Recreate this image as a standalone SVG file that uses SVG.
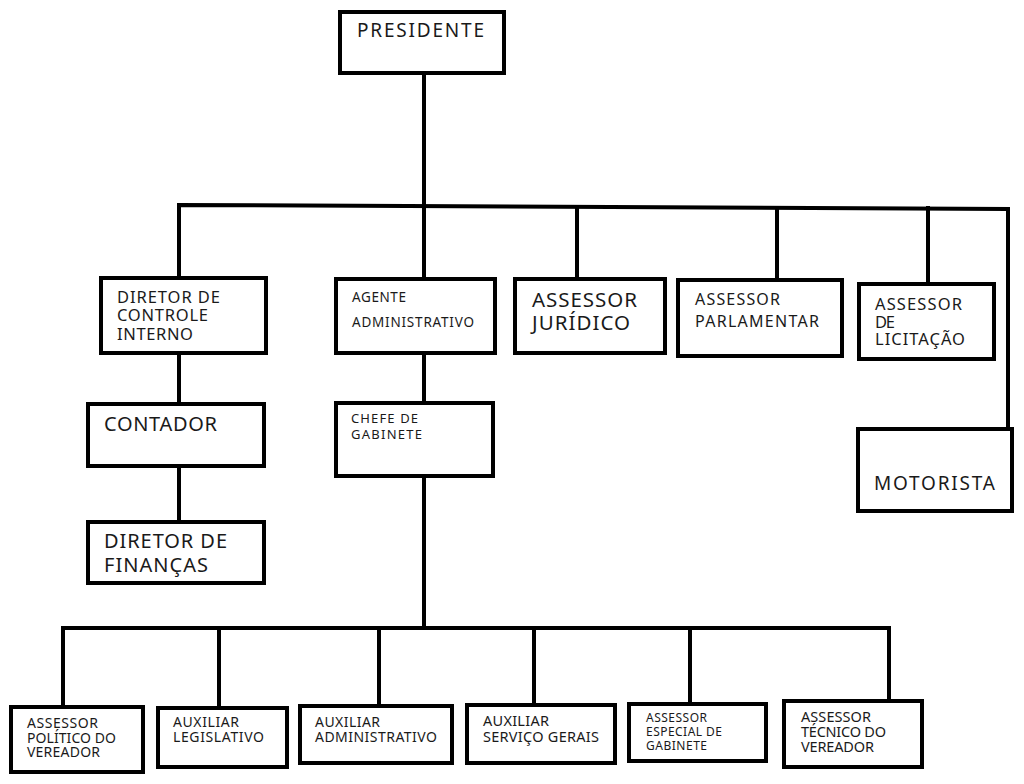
<svg xmlns="http://www.w3.org/2000/svg" width="1024" height="784" viewBox="0 0 1024 784">
<style>
.box{fill:#fff;stroke:#000;stroke-width:4}
.ln{fill:none;stroke:#000;stroke-width:4;stroke-linejoin:miter;stroke-linecap:square}
text{font-family:"Noto Sans","DejaVu Sans",sans-serif;fill:#1a1a1a}
</style>
<rect width="1024" height="784" fill="#fff"/>
<g id="connectors">
<path class="ln" d="M424 74V206"/>
<path class="ln" d="M179 277V205L1008 209V428"/>
<path class="ln" d="M424 206V278M577 207V278M777 208V279M928 208V283"/>
<path class="ln" d="M179 354V403M179 467V521"/>
<path class="ln" d="M424 354V402M424 477V628"/>
<path class="ln" d="M63 706V628H889V700"/>
<path class="ln" d="M219 628V707M379 628V705M534 628V704M690 628V703"/>
</g>
<g id="presidente"><rect class="box" x="340" y="12" width="164" height="61"/><text x="357" y="37" font-size="19" textLength="127" lengthAdjust="spacing">PRESIDENTE</text></g>
<g id="diretor-controle" font-size="16.5"><rect class="box" x="101" y="278" width="165" height="75"/>
<text x="117" y="303" textLength="103" lengthAdjust="spacing">DIRETOR DE</text>
<text x="117" y="321" textLength="91" lengthAdjust="spacing">CONTROLE</text>
<text x="117" y="340" textLength="76" lengthAdjust="spacing">INTERNO</text></g>
<g id="agente" font-size="13.5"><rect class="box" x="336" y="279" width="159" height="74"/>
<text x="352" y="302" textLength="54" lengthAdjust="spacing">AGENTE</text>
<text x="352" y="327" textLength="122" lengthAdjust="spacing">ADMINISTRATIVO</text></g>
<g id="juridico" font-size="20.5"><rect class="box" x="515" y="279" width="150" height="74"/>
<text x="532" y="307" textLength="105" lengthAdjust="spacing">ASSESSOR</text>
<text x="532" y="330" textLength="98" lengthAdjust="spacing">JURÍDICO</text></g>
<g id="parlamentar" font-size="16"><rect class="box" x="678" y="280" width="164" height="76"/>
<text x="695" y="305" textLength="85" lengthAdjust="spacing">ASSESSOR</text>
<text x="695" y="327" textLength="124" lengthAdjust="spacing">PARLAMENTAR</text></g>
<g id="licitacao" font-size="16.5"><rect class="box" x="859" y="284" width="135" height="75"/>
<text x="875" y="310" textLength="87" lengthAdjust="spacing">ASSESSOR</text>
<text x="875" y="328" textLength="20" lengthAdjust="spacing">DE</text>
<text x="875" y="345" textLength="90" lengthAdjust="spacing">LICITAÇÃO</text></g>
<g id="contador"><rect class="box" x="88" y="404" width="176" height="62"/><text x="104" y="431" font-size="20" textLength="113" lengthAdjust="spacing">CONTADOR</text></g>
<g id="diretor-financas" font-size="20"><rect class="box" x="88" y="522" width="176" height="61"/>
<text x="104" y="548" textLength="123" lengthAdjust="spacing">DIRETOR DE</text>
<text x="104" y="572" textLength="104" lengthAdjust="spacing">FINANÇAS</text></g>
<g id="chefe" font-size="13"><rect class="box" x="336" y="403" width="157" height="73"/>
<text x="351" y="423" textLength="67" lengthAdjust="spacing">CHEFE DE</text>
<text x="351" y="439" textLength="71" lengthAdjust="spacing">GABINETE</text></g>
<g id="motorista"><rect class="box" x="858" y="429" width="154" height="82"/><text x="874" y="490" font-size="19" textLength="121" lengthAdjust="spacing">MOTORISTA</text></g>
<g id="politico" font-size="14"><rect class="box" x="11" y="707" width="132" height="65"/>
<text x="27" y="728" textLength="71" lengthAdjust="spacing">ASSESSOR</text>
<text x="27" y="742.5" textLength="89" lengthAdjust="spacing">POLÍTICO DO</text>
<text x="27" y="757" textLength="73" lengthAdjust="spacing">VEREADOR</text></g>
<g id="legislativo" font-size="14"><rect class="box" x="158" y="708" width="129" height="59"/>
<text x="173" y="727" textLength="66" lengthAdjust="spacing">AUXILIAR</text>
<text x="173" y="742" textLength="91" lengthAdjust="spacing">LEGISLATIVO</text></g>
<g id="aux-adm" font-size="14"><rect class="box" x="300" y="706" width="152" height="57"/>
<text x="315" y="727" textLength="65" lengthAdjust="spacing">AUXILIAR</text>
<text x="315" y="742" textLength="122" lengthAdjust="spacing">ADMINISTRATIVO</text></g>
<g id="servicos" font-size="14.5"><rect class="box" x="467" y="705" width="148" height="58"/>
<text x="483" y="726" textLength="66" lengthAdjust="spacing">AUXILIAR</text>
<text x="483" y="742" textLength="116" lengthAdjust="spacing">SERVIÇO GERAIS</text></g>
<g id="especial" font-size="12"><rect class="box" x="629" y="704" width="137" height="57"/>
<text x="646" y="722" textLength="61" lengthAdjust="spacing">ASSESSOR</text>
<text x="646" y="736" textLength="76" lengthAdjust="spacing">ESPECIAL DE</text>
<text x="646" y="750" textLength="61" lengthAdjust="spacing">GABINETE</text></g>
<g id="tecnico" font-size="14.5"><rect class="box" x="784" y="701" width="138" height="66"/>
<text x="801" y="722" textLength="70" lengthAdjust="spacing">ASSESSOR</text>
<text x="801" y="737" textLength="85" lengthAdjust="spacing">TÉCNICO DO</text>
<text x="801" y="752" textLength="73" lengthAdjust="spacing">VEREADOR</text></g>
</svg>
